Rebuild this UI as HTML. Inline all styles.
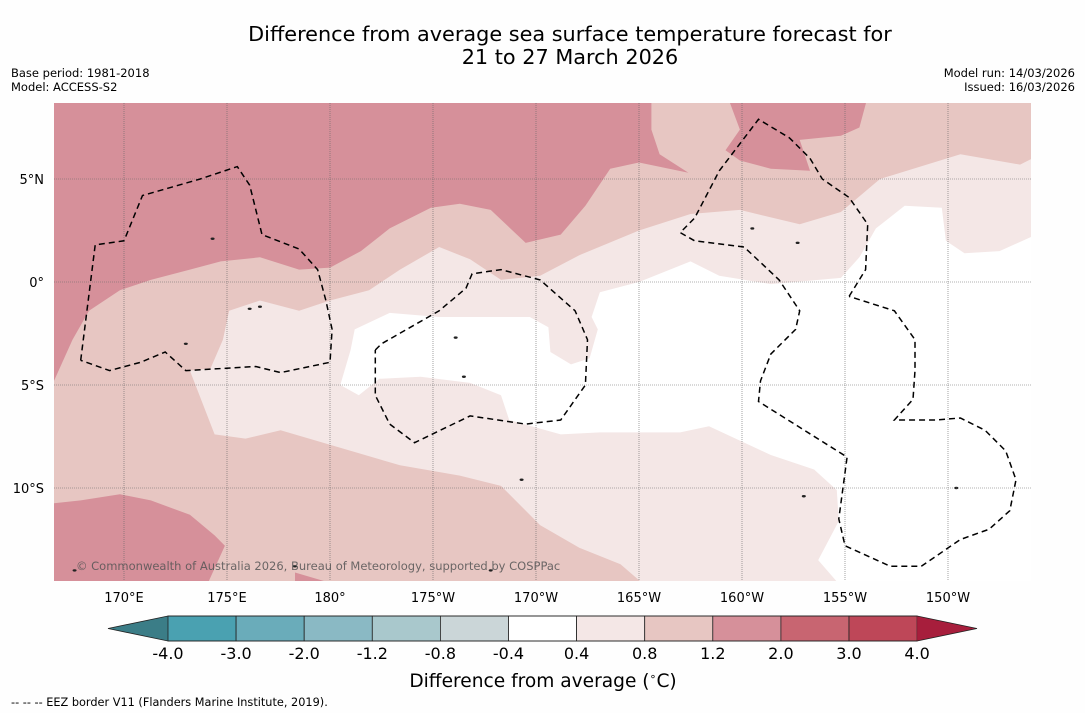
<!DOCTYPE html>
<html><head><meta charset="utf-8">
<style>
body{margin:0;background:#fff;width:1085px;height:713px;overflow:hidden;font-family:"DejaVu Sans","Liberation Sans",sans-serif;}
svg{display:block}
</style></head>
<body>
<svg id="chart" width="1085" height="713" xmlns="http://www.w3.org/2000/svg">
<rect width="1085" height="713" fill="#fefefe"/>
<text x="570" y="41" font-size="20.8" text-anchor="middle" fill="#000">Difference from average sea surface temperature forecast for</text>
<text x="570" y="64" font-size="20.8" text-anchor="middle" fill="#000">21 to 27 March 2026</text>
<text x="11" y="77" font-size="11.5">Base period: 1981-2018</text>
<text x="11" y="91" font-size="11.5">Model: ACCESS-S2</text>
<text x="1075" y="77" font-size="11.5" text-anchor="end">Model run: 14/03/2026</text>
<text x="1075" y="91" font-size="11.5" text-anchor="end">Issued: 16/03/2026</text>
<defs><clipPath id="mapclip"><rect x="54" y="103" width="977" height="478"/></clipPath></defs>
<g id="map" clip-path="url(#mapclip)"></g>
<g id="axes"></g>
<g id="cbar"></g>
<text x="76" y="570" font-size="11.5" fill="#555" opacity="0.85">© Commonwealth of Australia 2026, Bureau of Meteorology, supported by COSPPac</text>
<text x="543" y="687" font-size="18.6" text-anchor="middle">Difference from average (<tspan font-size="11" dy="-7">∘</tspan><tspan dy="7">C)</tspan></text>
<text x="11" y="706" font-size="11.3">--  --  -- EEZ border V11 (Flanders Marine Institute, 2019).</text>
</svg>
<script>
const NS="http://www.w3.org/2000/svg";
// Map projection data
const lonTicks=[170,175,180,185,190,195,200,205,210];
const lonTickLabels=["170°E","175°E","180°","175°W","170°W","165°W","160°W","155°W","150°W"];
const latTicks=[5,0,-5,-10];
const latTickLabels=["5°N","0°","5°S","10°S"];
// Contour regions [lon(0-360), lat]
const whiteRegion=[[181.2,-2.3],[182.9,-1.5],[185.3,-1.7],[188.3,-1.7],[189.7,-1.7],[190.6,-2.2],[190.7,-3.4],[191.7,-4.0],[192.6,-3.7],[193.0,-2.3],[192.7,-1.7],[193.1,-0.5],[195.0,0],[197.5,1.0],[198.9,0.3],[201.4,-0.1],[204.8,0.2],[205.7,1.2],[206.5,2.6],[207.9,3.7],[209.7,3.6],[209.9,2.0],[210.8,1.4],[212.5,1.5],[214.5,2.4],[214.5,-15],[205.0,-15],[203.7,-13.5],[204.7,-11.6],[204.6,-10.1],[203.5,-9.1],[201.4,-8.4],[199.9,-7.7],[198.4,-7.0],[197.0,-7.3],[193.1,-7.3],[191.2,-7.4],[188.7,-6.7],[188.3,-5.5],[186.8,-4.9],[184.4,-4.6],[182.4,-4.7],[181.4,-5.5],[180.5,-5.0],[181.0,-3.3]];
const mediumRegion=[[166,9],[214.5,9],[214.5,6.2],[213.5,5.7],[210.6,6.2],[206.7,5.0],[204.8,3.4],[202.8,2.8],[199.9,3.5],[197.5,3.3],[195.0,2.5],[192.1,1.3],[190.2,0.3],[188.3,0.1],[186.8,1.1],[185.3,1.7],[183.4,0.6],[181.9,-0.4],[180,-0.9],[178.5,-1.4],[176.6,-0.9],[175.1,-1.4],[174.8,-2.8],[174.2,-4.2],[173.2,-4.3],[174.4,-7.4],[175.9,-7.6],[177.6,-7.2],[180,-7.9],[183.4,-8.9],[186.3,-9.4],[188.3,-9.9],[190.2,-11.8],[192.1,-12.9],[194.1,-13.7],[195.6,-15],[166,-15]];
const darkRegions=[
 [[166,9],[195.6,9],[195.6,7.4],[196.0,6.2],[197.4,5.3],[195.0,5.8],[193.6,5.5],[192.4,3.7],[191.2,2.3],[189.5,1.9],[187.8,3.5],[186.3,3.8],[184.9,3.6],[182.9,2.6],[181.5,1.5],[180,0.7],[178.5,0.6],[176.6,1.2],[174.7,1.0],[173.2,0.6],[171.3,0.1],[169.8,-0.4],[168.3,-1.4],[167.5,-2.8],[166.6,-4.8],[166,-4.8]],
 [[199.3,9],[206.1,9],[205.7,7.5],[204.8,7.1],[202.8,6.9],[203.3,5.4],[201.4,5.5],[199.9,5.9],[199.2,6.4],[199.9,7.4]],
 [[166,-10.8],[167.9,-10.6],[169.8,-10.3],[171.3,-10.6],[173.2,-11.3],[174.4,-12.3],[174.9,-12.8],[173.9,-15],[166,-15]],
 [[178.3,-14.1],[180,-14.6],[178.3,-15]]
];
const eezLines=[
 [[167.9,-3.8],[168.6,1.8],[170,2.0],[170.9,4.2],[173.7,5.0],[175.5,5.6],[176.1,4.7],[176.7,2.3],[178.5,1.6],[179.4,0.6],[179.8,-0.9],[180.1,-2.3],[180,-3.9],[177.6,-4.4],[176.4,-4.1],[173,-4.3],[172,-3.4],[170.8,-3.9],[169.3,-4.3],[167.9,-3.8]],
 [[182.2,-3.3],[182.5,-3.0],[185.3,-1.4],[186.6,-0.3],[186.9,0.4],[188.3,0.6],[190.2,0.1],[191.9,-1.4],[192.5,-2.8],[192.4,-5.0],[191.2,-6.7],[189.5,-6.9],[186.8,-6.5],[184.1,-7.8],[182.9,-6.9],[182.2,-5.5],[182.2,-3.3]],
 [[205.2,-0.7],[206,0.6],[206.1,2.8],[205.2,4.1],[203.9,5.0],[203.3,6.0],[202.3,7.0],[200.8,7.9],[198.9,5.4],[197.7,3.1],[197,2.4],[197.7,2.0],[200.1,1.7],[201.8,0.1],[202.8,-1.4],[202.6,-2.3],[201.4,-3.5],[200.9,-4.8],[200.8,-5.8],[205.1,-8.5],[204.7,-11.5],[205,-12.8],[207.2,-13.8],[208.7,-13.8],[210.6,-12.5],[212,-12.0],[213,-11.1],[213.3,-9.6],[212.8,-8.2],[211.8,-7.2],[210.6,-6.6],[209.4,-6.7],[207.4,-6.7],[208.3,-5.7],[208.4,-4.3],[208.4,-2.8],[207.4,-1.4],[205.2,-0.7]]
];
const islands=[[173,-3],[176.1,-1.3],[178.3,-13.8],[187.8,-14.0],[186.5,-4.6],[189.3,-9.6],[200.5,2.6],[202.7,1.9],[203.0,-10.4],[210.4,-10.0],[167.6,-14.0],[176.6,-1.2],[174.3,2.1],[186.1,-2.7]];
// Colorbar data
const cbLevels=["-4.0","-3.0","-2.0","-1.2","-0.8","-0.4","0.4","0.8","1.2","2.0","3.0","4.0"];
const cbColors=["#4aa1b1","#6aacba","#8ab9c4","#a9c8cc","#cbd6d8","#ffffff","#f4e7e6","#e7c6c2","#d6909a","#c86571","#be4758"];
const cbExtendColors=["#3b7d87","#a71e3c"];
const fillLow="#f4e7e6",fillMed="#e7c6c2",fillHigh="#d6909a";

const X=lon=>124+(lon-170)*20.6;
const Y=lat=>282-lat*20.6;
const pts=a=>a.map(p=>X(p[0]).toFixed(1)+","+Y(p[1]).toFixed(1)).join(" ");
const map=document.getElementById("map");
function mk(tag,attrs,parent){const e=document.createElementNS(NS,tag);for(const k in attrs)e.setAttribute(k,attrs[k]);parent.appendChild(e);return e;}

let bg=mk("rect",{x:54,y:103,width:977,height:478,fill:fillLow},map);


let w=mk("polygon",{points:pts(whiteRegion),fill:"#ffffff"},map);


let m=mk("polygon",{points:pts(mediumRegion),fill:fillMed},map);


darkRegions.forEach(r=>{
 const d=mk("polygon",{points:pts(r),fill:fillHigh},map);
 
 
});
islands.forEach(p=>{
 const c=mk("ellipse",{cx:X(p[0]),cy:Y(p[1]),rx:2,ry:1.2,fill:"#222"},map);
 
 
});
lonTicks.forEach((lon,i)=>{
 const l=mk("line",{x1:X(lon),x2:X(lon),y1:103,y2:581,stroke:"#666","stroke-width":0.6,"stroke-dasharray":"1,1"},map);
 
 
 const t=mk("text",{x:X(lon),y:602,"font-size":13,"text-anchor":"middle"},document.getElementById("axes"));
 t.textContent=lonTickLabels[i];
 
 
});
latTicks.forEach((lat,i)=>{
 const l=mk("line",{x1:54,x2:1031,y1:Y(lat),y2:Y(lat),stroke:"#666","stroke-width":0.6,"stroke-dasharray":"1,1"},map);
 
 
 const t=mk("text",{x:44,y:Y(lat)+5,"font-size":13,"text-anchor":"end"},document.getElementById("axes"));
 t.textContent=latTickLabels[i];
 
 
});
eezLines.forEach(r=>{
 const e=mk("polyline",{points:pts(r),fill:"none",stroke:"#000","stroke-width":1.5,"stroke-dasharray":"6,4"},map);
 
 
});
// colorbar
const cb=document.getElementById("cbar");
const cbX0=168,cbW=68.1,cbY=616,cbH=25;
const left=mk("polygon",{points:`${cbX0},${cbY} ${cbX0},${cbY+cbH} 108,${cbY+cbH/2}`,fill:cbExtendColors[0]},cb);


cbColors.forEach((c,i)=>{
 const r=mk("rect",{x:cbX0+i*cbW,y:cbY,width:cbW,height:cbH,fill:c,stroke:"#222","stroke-width":0.8},cb);
 
 
});
const xe=cbX0+cbColors.length*cbW;
const right=mk("polygon",{points:`${xe},${cbY} ${xe},${cbY+cbH} 977,${cbY+cbH/2}`,fill:cbExtendColors[1]},cb);


mk("polygon",{points:`108,${cbY+cbH/2} ${cbX0},${cbY} ${xe},${cbY} 977,${cbY+cbH/2} ${xe},${cbY+cbH} ${cbX0},${cbY+cbH}`,fill:"none",stroke:"#222","stroke-width":0.8},cb);
cbLevels.forEach((lv,i)=>{
 const t=mk("text",{x:cbX0+i*cbW,y:659,"font-size":16,"text-anchor":"middle"},cb);
 t.textContent=lv;
 
 
});
</script>
</body></html>
